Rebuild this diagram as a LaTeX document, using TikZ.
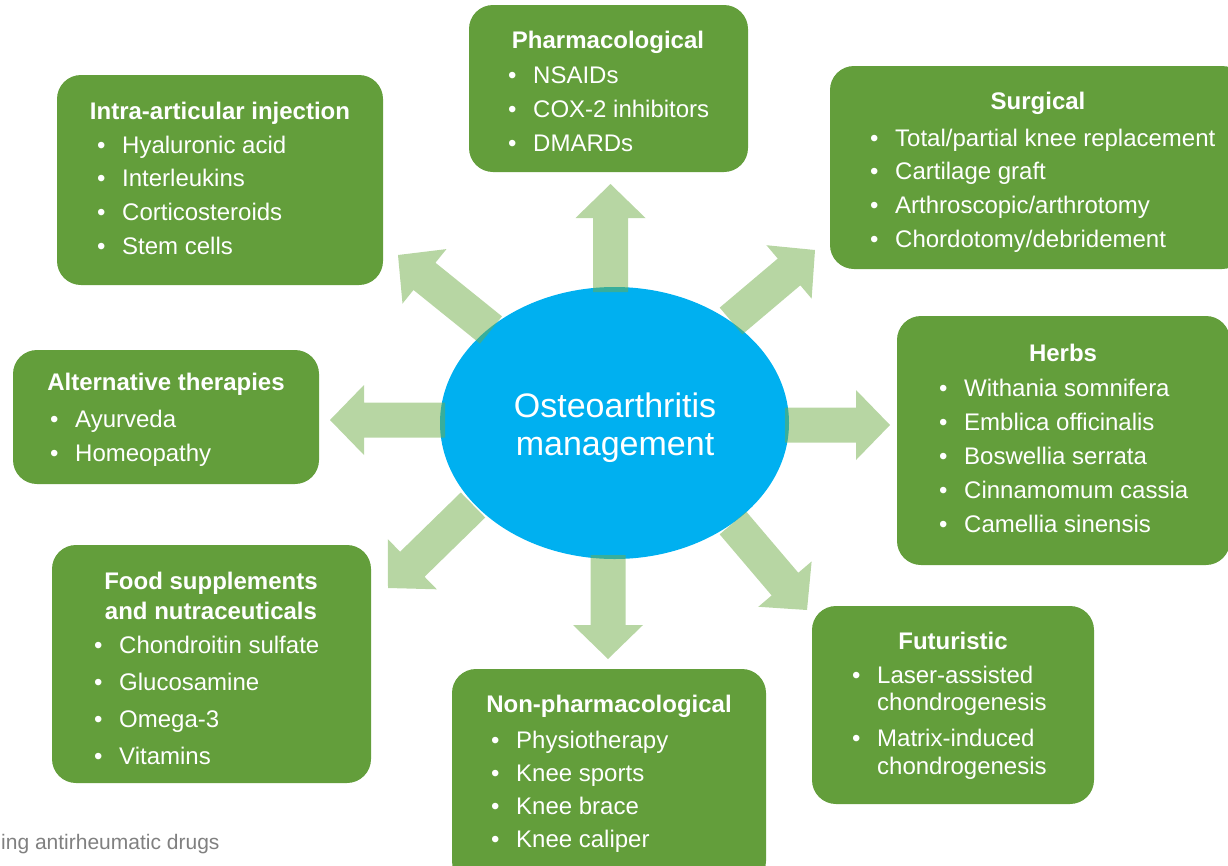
\documentclass[tikz,border=0pt]{standalone}
\usepackage{fontspec}
\setmainfont{Liberation Sans}
\usetikzlibrary{calc,shapes.geometric}

\definecolor{boxgreen}{RGB}{99,158,59}
\definecolor{arrowgreen}{RGB}{112,173,71}
\definecolor{hubblue}{RGB}{0,176,240}
\definecolor{notegray}{RGB}{128,128,128}

\tikzset{
  panel/.style={fill=boxgreen, draw=none, rounded corners=24pt, inner sep=0pt, outer sep=0pt, anchor=north west},
  heading/.style={text=white, font=\fontsize{24}{28}\selectfont\bfseries, inner sep=0pt, anchor=base},
  entry/.style={text=white, font=\fontsize{24}{28}\selectfont, inner sep=0pt, anchor=base west},
  spoke/.style={fill=arrowgreen, fill opacity=0.5},
  hubtext/.style={text=white, font=\fontsize{34}{38}\selectfont, inner sep=0pt, anchor=base},
}

% bullet followed by a fixed gap
\newcommand{\bul}{\makebox[25pt][l]{\textbullet}}

% bullet list: name prefix, x, first baseline, line step, items
\newcommand{\bulletlist}[5]{%
  \foreach \t [count=\i from 0] in {#5}
    \node[entry] (#1-\i) at (#2, #3+\i*#4) {\bul\t};
}

% broad block arrow from #1 to #2
\newcommand{\spokearrow}[2]{%
  \coordinate (neck) at ($(#2)!34pt!(#1)$);
  \fill[spoke] ($(#1)!17.5pt!90:(#2)$) -- ($(neck)!17.5pt!90:(#2)$)
    -- ($(neck)!35pt!90:(#2)$) -- (#2) -- ($(neck)!35pt!-90:(#2)$)
    -- ($(neck)!17.5pt!-90:(#2)$) -- ($(#1)!17.5pt!-90:(#2)$) -- cycle;
}

\begin{document}
\begin{tikzpicture}[x=1pt, y=-1pt]
\useasboundingbox (0,0) rectangle (1228,865);
\clip (0,0) rectangle (1228,865);

% ---- panels ----
\node[panel, minimum width=279pt, minimum height=167pt] (pharm) at (469,5) {};
\node[heading] (pharm-t) at (608,48) {Pharmacological};
\bulletlist{pharm}{508}{83}{34}{NSAIDs, COX-2 inhibitors, DMARDs}

\node[panel, minimum width=326pt, minimum height=210pt] (intra) at (57,75) {};
\node[heading] (intra-t) at (220,119) {Intra-articular injection};
\bulletlist{intra}{97}{153}{33.8}{Hyaluronic acid, Interleukins, Corticosteroids, Stem cells}

\node[panel, minimum width=416pt, minimum height=203pt] (surg) at (830,66) {};
\node[heading] (surg-t) at (1038,109) {Surgical};
\bulletlist{surg}{870}{146}{33.8}{Total/partial knee replacement, Cartilage graft, Arthroscopic/arthrotomy, Chordotomy/debridement}

\node[panel, minimum width=306pt, minimum height=134pt] (alt) at (13,350) {};
\node[heading] (alt-t) at (166,390) {Alternative therapies};
\bulletlist{alt}{50}{427}{34}{Ayurveda, Homeopathy}

\node[panel, minimum width=333pt, minimum height=249pt] (herbs) at (897,316) {};
\node[heading] (herbs-t) at (1063,361) {Herbs};
\bulletlist{herbs}{939}{396}{34}{Withania somnifera, Emblica officinalis, Boswellia serrata, Cinnamomum cassia, Camellia sinensis}

\node[panel, minimum width=319pt, minimum height=238pt] (food) at (52,545) {};
\node[heading] (food-t1) at (211,589) {Food supplements};
\node[heading] (food-t2) at (211,619) {and nutraceuticals};
\bulletlist{food}{94}{653}{37.3}{Chondroitin sulfate, Glucosamine, Omega-3, Vitamins}

\node[panel, minimum width=314pt, minimum height=216pt] (nonph) at (452,669) {};
\node[heading] (nonph-t) at (609,712) {Non-pharmacological};
\bulletlist{nonph}{491}{748}{33.3}{Physiotherapy, Knee sports, Knee brace, Knee caliper}

\node[panel, minimum width=282pt, minimum height=198pt] (fut) at (812,606) {};
\node[heading] (fut-t) at (953,649) {Futuristic};
\node[entry] (fut-0) at (852,683) {\bul Laser-assisted};
\node[entry] (fut-0b) at (877,710) {chondrogenesis};
\node[entry] (fut-1) at (852,746) {\bul Matrix-induced};
\node[entry] (fut-1b) at (877,774) {chondrogenesis};

% ---- central hub ----
\node[ellipse, fill=hubblue, draw=none, inner sep=0pt, minimum width=349pt, minimum height=272pt] (hub) at (614.5,423) {};
\node[hubtext] (hub-1) at (615,417) {Osteoarthritis};
\node[hubtext] (hub-2) at (615,455) {management};

% ---- radiating arrows ----
\coordinate (up-s) at (610.5,292);   \coordinate (up-e) at (610.5,184);
\coordinate (dn-s) at (608,555);     \coordinate (dn-e) at (608,659);
\coordinate (lf-s) at (445,420);     \coordinate (lf-e) at (330,420);
\coordinate (rt-s) at (785,425);     \coordinate (rt-e) at (890,425);
\coordinate (ul-s) at (491,330);     \coordinate (ul-e) at (398,255);
\coordinate (ur-s) at (731,321);     \coordinate (ur-e) at (815,250);
\coordinate (ll-s) at (473,505);     \coordinate (ll-e) at (388,588);
\coordinate (lr-s) at (733,523);     \coordinate (lr-e) at (807,610);
\spokearrow{up-s}{up-e}
\spokearrow{dn-s}{dn-e}
\spokearrow{lf-s}{lf-e}
\spokearrow{rt-s}{rt-e}
\spokearrow{ul-s}{ul-e}
\spokearrow{ur-s}{ur-e}
\spokearrow{ll-s}{ll-e}
\spokearrow{lr-s}{lr-e}

% ---- footnote ----
\node[anchor=base west, text=notegray, font=\fontsize{21}{24}\selectfont, inner sep=0pt] (note) at (1,849) {ing antirheumatic drugs};
\end{tikzpicture}
\end{document}
